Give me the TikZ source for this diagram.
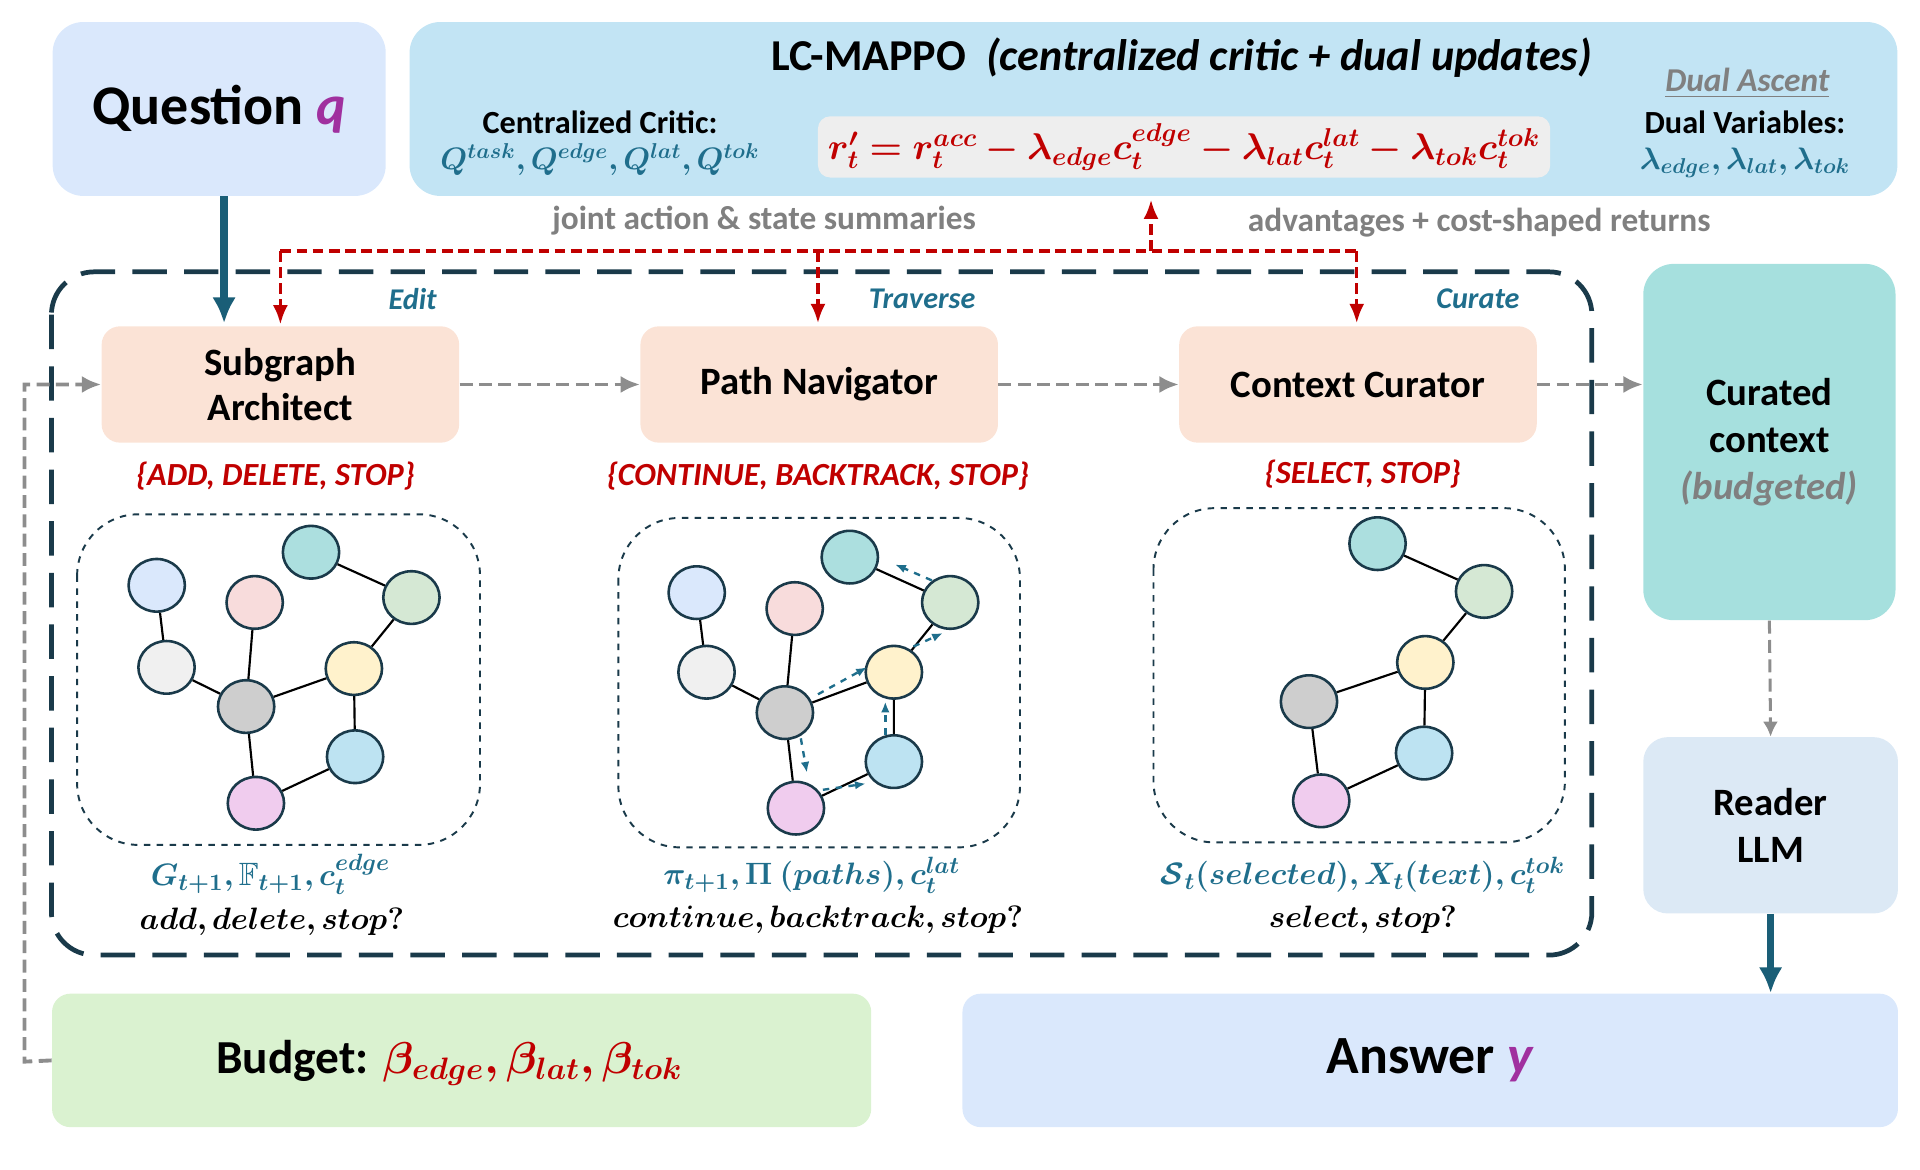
\documentclass[tikz,border=0pt]{standalone}
\usepackage{fontspec}
\usepackage{amsmath,amssymb,bm}
\setmainfont{Carlito}
\usetikzlibrary{arrows.meta,shapes.geometric}
\definecolor{tealt}{HTML}{1F6E8C}
\definecolor{redt}{HTML}{C00000}
\definecolor{grayt}{HTML}{808080}
\definecolor{purp}{HTML}{A0309F}
\definecolor{navy}{HTML}{1A3A4A}
\definecolor{qbox}{HTML}{DAE8FC}
\definecolor{lcbox}{HTML}{C2E4F4}
\definecolor{peach}{HTML}{FBE3D6}
\definecolor{curbox}{HTML}{A6E0DE}
\definecolor{readbox}{HTML}{DCE9F5}
\definecolor{budbox}{HTML}{DAF2D0}
\definecolor{fbox}{HTML}{EEEEEE}
\definecolor{nblue}{HTML}{DAE8FC}
\definecolor{npink}{HTML}{F8DCDC}
\definecolor{nteal}{HTML}{ACDFDF}
\definecolor{ngreen}{HTML}{D5E8D4}
\definecolor{nwhite}{HTML}{F0F0F0}
\definecolor{ngray}{HTML}{CECECE}
\definecolor{nyellow}{HTML}{FFF2CC}
\definecolor{nlb}{HTML}{BDE3F2}
\definecolor{npurp}{HTML}{F0CCEE}
\begin{document}
\begin{tikzpicture}[x=0.02cm,y=-0.02cm,
  box/.style={rounded corners=0.5cm,draw=none},
  agent/.style={box,fill=peach,rounded corners=0.3cm,font=\fontsize{18}{21}\selectfont\bfseries,align=center},
  gn/.style={ellipse,draw=navy,line width=1.2pt,minimum width=0.92cm,minimum height=0.86cm,inner sep=0pt},
  ge/.style={line width=1pt,black},
  pa/.style={-{Latex[length=5pt,width=4pt]},dashed,tealt,line width=1.1pt},
  gdash/.style={-{Latex[length=9pt,width=8pt]},dash pattern=on 6pt off 3pt,grayt!90,line width=1.8pt},
  rdash/.style={dash pattern=on 5pt off 2.5pt,redt,line width=1.6pt},
  rtip/.style={-{Latex[length=9pt,width=7pt]}},
  gbox/.style={draw=navy,dashed,line width=0.9pt,rounded corners=1cm},
  act/.style={font=\fontsize{15}{17}\selectfont\bfseries\itshape,text=redt},
  lab/.style={font=\fontsize{14}{16}\selectfont\bfseries\itshape,text=tealt},
  sum/.style={font=\fontsize{15.5}{17}\selectfont\bfseries,text=grayt}
]
\useasboundingbox (0,0) rectangle (1568,955);
% top boxes
\node[box,fill=qbox,minimum width=272*0.02cm,minimum height=142*0.02cm] (q) at (179,89) {};
\node[font=\fontsize{26}{30}\selectfont\bfseries] (qt) at (179,89) {Question \textcolor{purp}{\textit{q}}};
\node[box,fill=lcbox,minimum width=1215*0.02cm,minimum height=142*0.02cm] (lc) at (942,89) {};
\node[font=\fontsize{20.5}{24}\selectfont\bfseries] (lct) at (965,47) {LC-MAPPO\ \ \textit{(centralized critic + dual updates)}};
\node[font=\fontsize{15}{17}\selectfont\bfseries] (cc) at (490,100) {Centralized Critic:};
\node[text=tealt,font=\fontsize{14}{16}\selectfont] (ccq) at (490,130) {$\bm{Q^{task}, Q^{edge}, Q^{lat}, Q^{tok}}$};
\node[box,fill=fbox,rounded corners=0.2cm,minimum width=598*0.02cm,minimum height=50*0.02cm] (fb) at (967,120) {};
\node[text=redt,font=\fontsize{17.5}{20}\selectfont] (ft) at (967,120) {$\bm{r'_t = r_t^{acc} - \lambda_{edge}c_t^{edge} - \lambda_{lat}c_t^{lat} - \lambda_{tok}c_t^{tok}}$};
\node[text=grayt,font=\fontsize{15.5}{17}\selectfont\bfseries\itshape] (da) at (1427,68) {\underline{Dual Ascent}};
\node[font=\fontsize{15}{17}\selectfont\bfseries] (dv) at (1425,100) {Dual Variables:};
\node[text=tealt,font=\fontsize{14}{16}\selectfont] (dvl) at (1425,133) {$\bm{\lambda_{edge},\lambda_{lat},\lambda_{tok}}$};
\node[sum] (s1) at (624,180) {joint action \& state summaries};
\node[sum] (s2) at (1208,182) {advantages + cost-shaped returns};
% big dashed region
\draw[navy,line width=2.2pt,dash pattern=on 16pt off 8pt,rounded corners=0.7cm] (42,222) rectangle (1300,780);
% agents
\node[agent,minimum width=292*0.02cm,minimum height=95*0.02cm] (sa) at (229,314) {Subgraph\\Architect};
\node[agent,minimum width=292*0.02cm,minimum height=95*0.02cm] (pn) at (669,314) {Path Navigator};
\node[agent,minimum width=292*0.02cm,minimum height=95*0.02cm] (ccu) at (1109,314) {Context Curator};
\node[lab] (l1) at (337,244) {Edit};
\node[lab] (l2) at (753,244) {Traverse};
\node[lab] (l3) at (1207,244) {Curate};
% question arrow
\draw[-{Latex[length=12pt,width=11pt]},line width=3.5pt,tealt!85!black] (q.south -| 183,0) -- (183,264);
% red dashed
\coordinate (r1) at (229,205);
\coordinate (r2) at (1108,205);
\draw[rdash] (r1) -- (r2);
\draw[rdash,rtip] (r1) -- (229,265);
\draw[rdash,rtip] (668,205) -- (668,264);
\draw[rdash,rtip] (r2) -- (1108,264);
\draw[rdash,rtip] (940,205) -- (940,163);
% gray arrows
\draw[gdash] (sa.east) -- (pn.west);
\draw[gdash] (pn.east) -- (ccu.west);
\node[box,fill=curbox,minimum width=206*0.02cm,minimum height=291*0.02cm] (cur) at (1445,361) {};
\node[font=\fontsize{18}{22}\selectfont\bfseries,align=center] (curt) at (1445,361) {Curated\\context\\\textcolor{grayt}{\itshape(budgeted)}};
\draw[gdash] (ccu.east) -- (cur.west |- ccu.east);
\node[box,fill=readbox,rounded corners=0.4cm,minimum width=208*0.02cm,minimum height=144*0.02cm] (rd) at (1446,674) {};
\node[font=\fontsize{18}{22}\selectfont\bfseries,align=center] (rdt) at (1446,674) {Reader\\LLM};
\draw[gdash,-{Latex[length=7pt,width=7pt]},line width=1.4pt] (cur.south) -- (rd.north);
\node[box,fill=budbox,rounded corners=0.3cm,minimum width=669*0.02cm,minimum height=109*0.02cm] (bu) at (377,866) {};
\node[font=\fontsize{22}{26}\selectfont\bfseries] (but) at (367,868) {Budget: \textcolor{redt}{$\bm{\beta_{edge},\beta_{lat},\beta_{tok}}$}};
\node[box,fill=qbox,rounded corners=0.3cm,minimum width=764*0.02cm,minimum height=109*0.02cm] (an) at (1168,866) {};
\node[font=\fontsize{25}{28}\selectfont\bfseries] (ant) at (1168,866) {Answer \textcolor{purp}{\textit{y}}};
\draw[-{Latex[length=12pt,width=11pt]},line width=3.5pt,tealt!85!black] (rd.south) -- (an.north -| rd.south);
% loop
\coordinate (lp1) at (20,867);
\coordinate (lp2) at (20,314);
\draw[gdash] (bu.west) -- (lp1) -- (lp2) -- (sa.west);
% action sets
\node[act] (a1) at (225,389) {\{ADD, DELETE, STOP\}};
\node[act] (a2) at (668,389) {\{CONTINUE, BACKTRACK, STOP\}};
\node[act] (a3) at (1113,387) {\{SELECT, STOP\}};
% graph boxes
\draw[gbox] (63,420) rectangle (392,690);
\draw[gbox] (505,423) rectangle (833,692);
\draw[gbox] (942,415) rectangle (1278,688);
% graph 1
\node[gn,fill=nblue] (b1) at (128,478) {};
\node[gn,fill=npink] (p1) at (208,492) {};
\node[gn,fill=nteal] (t1) at (254,451) {};
\node[gn,fill=ngreen] (g1) at (336,488) {};
\node[gn,fill=nwhite] (w1) at (136,545) {};
\node[gn,fill=ngray] (c1) at (201,577) {};
\node[gn,fill=nyellow] (y1) at (289,546) {};
\node[gn,fill=nlb] (l1n) at (290,618) {};
\node[gn,fill=npurp] (u1) at (209,656) {};
\draw[ge] (b1)--(w1) (p1)--(c1) (w1)--(c1) (c1)--(y1) (y1)--(g1) (t1)--(g1) (y1)--(l1n) (l1n)--(u1) (c1)--(u1);
% graph 2
\node[gn,fill=nblue] (b2) at (569,484) {};
\node[gn,fill=npink] (p2) at (649,497) {};
\node[gn,fill=nteal] (t2) at (694,455) {};
\node[gn,fill=ngreen] (g2) at (776,492) {};
\node[gn,fill=nwhite] (w2) at (577,549) {};
\node[gn,fill=ngray] (c2) at (641,582) {};
\node[gn,fill=nyellow] (y2) at (730,549) {};
\node[gn,fill=nlb] (l2n) at (730,622) {};
\node[gn,fill=npurp] (u2) at (650,660) {};
\draw[ge] (b2)--(w2) (p2)--(c2) (w2)--(c2) (c2)--(y2) (y2)--(g2) (t2)--(g2) (y2)--(l2n) (l2n)--(u2) (c2)--(u2);
\draw[pa] (668,567) -- (708,545);
\draw[pa] (746,528) -- (770,517);
\draw[pa] (761,474) -- (731,461);
\draw[pa] (654,603) -- (659,631);
\draw[pa] (672,645) -- (707,640);
\draw[pa] (723,600) -- (723,573);
% graph 3
\node[gn,fill=nteal] (t3) at (1125,444) {};
\node[gn,fill=ngreen] (g3) at (1212,483) {};
\node[gn,fill=nyellow] (y3) at (1164,541) {};
\node[gn,fill=ngray] (c3) at (1069,573) {};
\node[gn,fill=nlb] (l3n) at (1163,615) {};
\node[gn,fill=npurp] (u3) at (1079,654) {};
\draw[ge] (t3)--(g3) (g3)--(y3) (y3)--(c3) (y3)--(l3n) (l3n)--(u3) (c3)--(u3);
% bottom texts
\node[text=tealt,font=\fontsize{15}{18}\selectfont] (m1) at (221,714) {$\bm{G_{t+1}, \mathbb{F}_{t+1}, c_t^{edge}}$};
\node[font=\fontsize{14}{17}\selectfont] (n1) at (222,753) {$\bm{add, delete, stop?}$};
\node[text=tealt,font=\fontsize{15}{18}\selectfont] (m2) at (663,715) {$\bm{\pi_{t+1}, \Pi\ (paths), c_t^{lat}}$};
\node[font=\fontsize{14}{17}\selectfont] (n2) at (668,751) {$\bm{continue, backtrack, stop?}$};
\node[text=tealt,font=\fontsize{15}{18}\selectfont] (m3) at (1113,715) {$\bm{\mathcal{S}_t(selected), X_t(text), c_t^{tok}}$};
\node[font=\fontsize{14}{17}\selectfont] (n3) at (1113,751) {$\bm{select, stop?}$};
\end{tikzpicture}
\end{document}
